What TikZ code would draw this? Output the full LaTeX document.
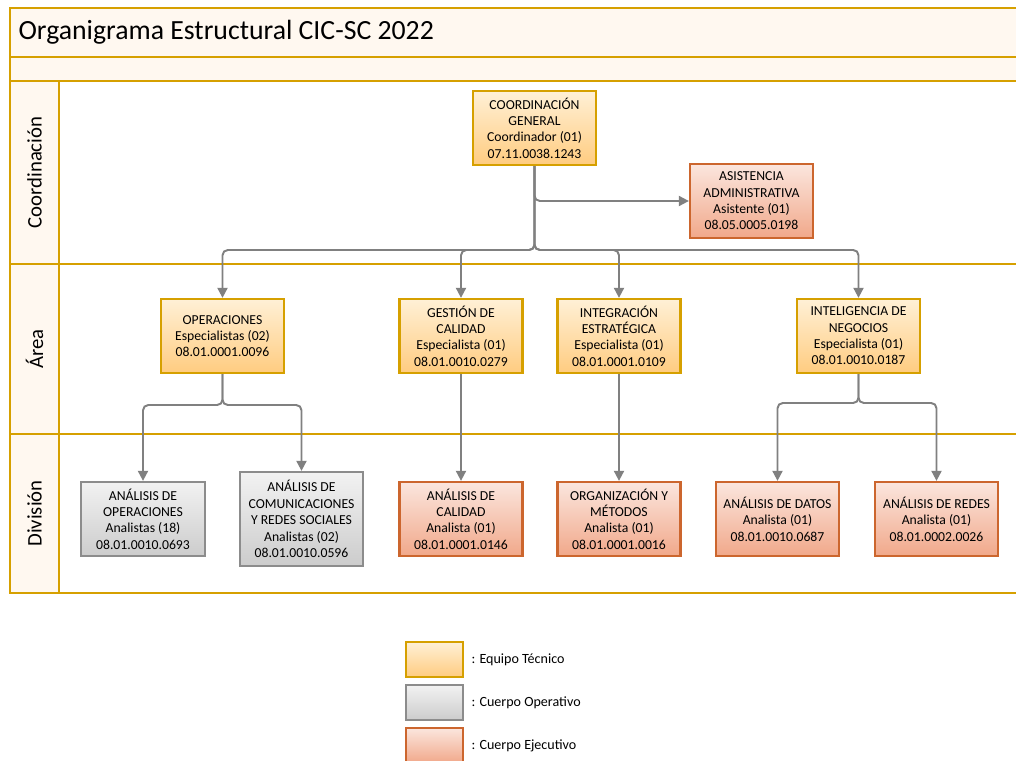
\documentclass[tikz,border=0pt]{standalone}
\usepackage{fontspec}
\setmainfont{Carlito}
\usepackage{xcolor}
\usepackage{tikz}
\usetikzlibrary{arrows.meta, positioning}

\definecolor{oro}{RGB}{214,160,0}
\definecolor{papel}{RGB}{255,248,240}
\definecolor{tecTop}{RGB}{255,240,214}
\definecolor{tecBot}{RGB}{255,204,128}
\definecolor{opTop}{RGB}{242,242,242}
\definecolor{opBot}{RGB}{204,204,204}
\definecolor{opLine}{RGB}{140,140,140}
\definecolor{ejeTop}{RGB}{251,230,222}
\definecolor{ejeBot}{RGB}{241,168,138}
\definecolor{ejeLine}{RGB}{204,102,46}
\definecolor{flecha}{RGB}{128,128,128}

\begin{document}
\begin{tikzpicture}[
    font=\fontsize{7.8}{9.3}\selectfont,
    tecnico/.style={rectangle, draw=oro, line width=1.3pt, top color=tecTop, bottom color=tecBot, minimum width=2.46cm, minimum height=1.48cm, align=center, inner sep=1pt},
    operativo/.style={rectangle, draw=opLine, line width=1.3pt, top color=opTop, bottom color=opBot, minimum width=2.46cm, minimum height=1.48cm, align=center, inner sep=1pt},
    ejecutivo/.style={rectangle, draw=ejeLine, line width=1.3pt, top color=ejeTop, bottom color=ejeBot, minimum width=2.46cm, minimum height=1.48cm, align=center, inner sep=1pt},
    lane/.style={draw=oro, line width=1.1pt},
    lanelabel/.style={rotate=90, font=\fontsize{11.8}{13}\selectfont},
    legendbox/.style={minimum width=1.14cm, minimum height=0.7cm},
    legendtext/.style={font=\fontsize{8}{9.5}\selectfont, inner sep=1pt},
    link/.style={-{Triangle[length=2mm, width=2mm]}, draw=flecha, line width=1.1pt, rounded corners=3pt}
]
\useasboundingbox (0,0) rectangle (20.32,15.2);

% Frame: title and lanes
\draw[lane, fill=papel] (0.2,14.06) rectangle (20.6,15.04);
\draw[lane, fill=papel] (0.2,13.58) rectangle (20.6,14.06);
\draw[lane, fill=white] (1.18,9.92) rectangle (20.6,13.58);
\draw[lane, fill=white] (1.18,6.52) rectangle (20.6,9.92);
\draw[lane, fill=white] (1.18,3.34) rectangle (20.6,6.52);
\draw[lane, fill=papel] (0.2,9.92) rectangle (1.18,13.58);
\draw[lane, fill=papel] (0.2,6.52) rectangle (1.18,9.92);
\draw[lane, fill=papel] (0.2,3.34) rectangle (1.18,6.52);

\node[anchor=west, inner sep=1pt, font=\fontsize{15.8}{18}\selectfont] (titulo) at (0.33,14.56) {Organigrama Estructural CIC-SC 2022};
\node[lanelabel] (lcoord) at (0.69,11.75) {Coordinación};
\node[lanelabel] (larea) at (0.69,8.22) {Área};
\node[lanelabel] (ldiv) at (0.69,4.93) {División};

% Coordinación
\node[tecnico] (coord) at (10.69,12.64) {COORDINACIÓN\\GENERAL\\Coordinador (01)\\07.11.0038.1243};
\node[ejecutivo] (asist) at (15.03,11.18) {ASISTENCIA\\ADMINISTRATIVA\\Asistente (01)\\08.05.0005.0198};

% Área
\node[tecnico] (ops) at (4.45,8.48) {OPERACIONES\\Especialistas (02)\\08.01.0001.0096};
\node[tecnico] (gest) at (9.22,8.48) {GESTIÓN DE\\CALIDAD\\Especialista (01)\\08.01.0010.0279};
\node[tecnico] (integ) at (12.38,8.48) {INTEGRACIÓN\\ESTRATÉGICA\\Especialista (01)\\08.01.0001.0109};
\node[tecnico] (intel) at (17.17,8.48) {INTELIGENCIA DE\\NEGOCIOS\\Especialista (01)\\08.01.0010.0187};

% División
\node[operativo, minimum width=2.48cm] (anops) at (2.86,4.82) {ANÁLISIS DE\\OPERACIONES\\Analistas (18)\\08.01.0010.0693};
\node[operativo, minimum height=1.88cm] (ancom) at (6.03,4.82) {ANÁLISIS DE\\COMUNICACIONES\\Y REDES SOCIALES\\Analistas (02)\\08.01.0010.0596};
\node[ejecutivo] (ancal) at (9.22,4.82) {ANÁLISIS DE\\CALIDAD\\Analista (01)\\08.01.0001.0146};
\node[ejecutivo] (orgmet) at (12.38,4.82) {ORGANIZACIÓN Y\\MÉTODOS\\Analista (01)\\08.01.0001.0016};
\node[ejecutivo] (andat) at (15.55,4.82) {ANÁLISIS DE DATOS\\Analista (01)\\08.01.0010.0687};
\node[ejecutivo] (anred) at (18.73,4.82) {ANÁLISIS DE REDES\\Analista (01)\\08.01.0002.0026};

% Connectors
\coordinate (hub) at (10.69,10.2);
\coordinate (hubops) at (4.45,7.1);
\coordinate (hubintel) at (17.17,7.14);

\draw[link] (coord.south) |- (asist.west);
\draw[link] (coord.south) -- (hub) -| (ops.north);
\draw[link] (coord.south) -- (hub) -| (gest.north);
\draw[link] (coord.south) -- (hub) -| (integ.north);
\draw[link] (coord.south) -- (hub) -| (intel.north);

\draw[link] (ops.south) -- (hubops) -| (anops.north);
\draw[link] (ops.south) -- (hubops) -| (ancom.north);
\draw[link] (gest.south) -- (ancal.north);
\draw[link] (integ.south) -- (orgmet.north);
\draw[link] (intel.south) -- (hubintel) -| (andat.north);
\draw[link] (intel.south) -- (hubintel) -| (anred.north);

% Legend
\node[tecnico, legendbox] (legtec) at (8.69,2.01) {};
\node[legendtext, right=3pt of legtec] (txttec) {: Equipo Técnico};
\node[operativo, legendbox] (legop) at (8.69,1.15) {};
\node[legendtext, right=3pt of legop] (txtop) {: Cuerpo Operativo};
\node[ejecutivo, legendbox] (legeje) at (8.69,0.29) {};
\node[legendtext, right=3pt of legeje] (txteje) {: Cuerpo Ejecutivo};

\end{tikzpicture}
\end{document}
